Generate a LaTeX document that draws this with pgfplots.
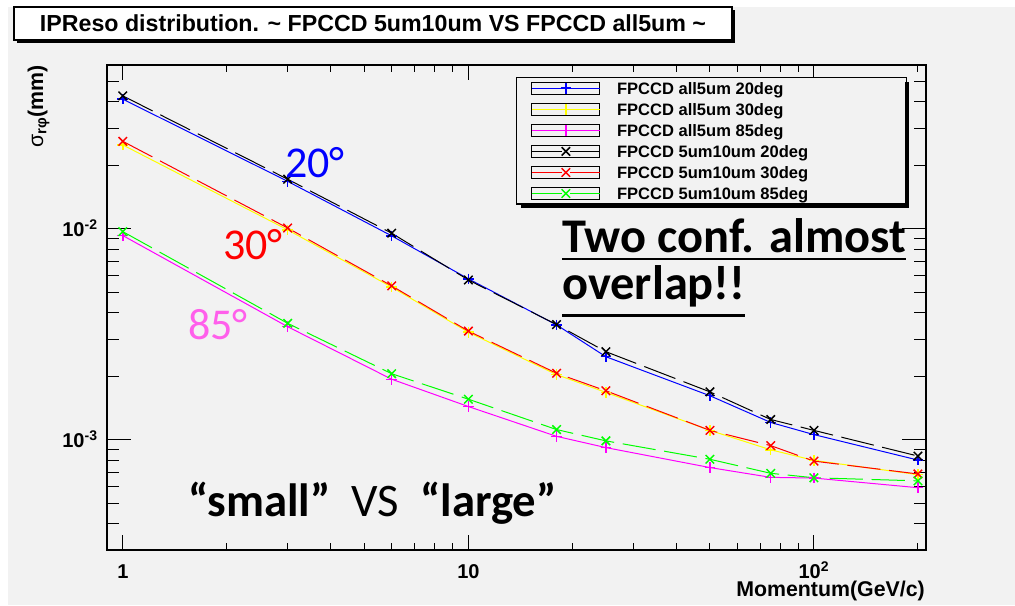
\documentclass[border=0pt]{standalone}
\usepackage{pgfplots}
\pgfplotsset{compat=1.18}
\usepackage{fontspec}
\setmainfont{Liberation Sans}
\newfontfamily\calibri{Carlito}
\definecolor{bggray}{HTML}{F2F2F2}
\definecolor{pinkish}{RGB}{255,95,235}
\definecolor{cblue}{RGB}{0,0,255}
\definecolor{cyel}{RGB}{255,255,0}
\definecolor{cmag}{RGB}{255,0,255}
\definecolor{cred}{RGB}{255,0,0}
\definecolor{cgrn}{RGB}{0,255,0}
\definecolor{cblk}{RGB}{0,0,0}
\newcommand\ul[3]{\setbox0\hbox{#3}\rlap{\rule[#1]{\wd0}{#2}}\box0}
\newcommand\lent[1]{\rule[-3.5pt]{0pt}{13.8pt}\makebox[214.5pt][l]{\hspace{10.5pt}#1}}
\begin{document}
\begin{tikzpicture}
\begin{scope}[x=0.75pt,y=-0.75pt,shift={(0pt,454.5pt)}]
 \fill[white] (0,0) rectangle (1015,606);
 \fill[bggray] (8,7) rectangle (1015,605);
 \fill[black] (17,10) rectangle (735,43);
 \draw[fill=white, line width=0.8pt] (14,7) rectangle (732,40);
 \node[font=\fontsize{17.4}{20}\selectfont\bfseries] at (373,23.5) {IPReso distribution. \textasciitilde{} FPCCD 5um10um VS FPCCD all5um \textasciitilde};
\end{scope}
% axis 1: background, frame and y ticks
\begin{axis}[
 at={(80.25pt,42pt)}, anchor=south west,
 scale only axis, width=614.25pt, height=363.75pt,
 xmode=log, ymode=log,
 xmin=0.9, xmax=211, ymin=3.01e-4, ymax=0.0598,
 axis line style={line width=1.1pt},
 tick align=inside, tick pos=both,
 every tick/.style={black, line width=0.8pt},
 axis background/.style={fill=bggray},
 xtick=\empty, minor xtick={},
 ytick={0.001,0.01}, yticklabels={10\textsuperscript{-3},10\textsuperscript{-2}},
 minor ytick={4e-4,5e-4,6e-4,7e-4,8e-4,9e-4,2e-3,3e-3,4e-3,5e-3,6e-3,7e-3,8e-3,9e-3,2e-2,3e-2,4e-2,5e-2},
 major tick length=18pt, minor tick length=9pt,
 yticklabel style={font=\fontsize{15}{17}\selectfont\bfseries, anchor=base east, inner xsep=0pt, xshift=-6.75pt, yshift=-5.5pt},
]
\addplot[draw=none, forget plot] coordinates {(1,0.01)};
\end{axis}
% axis 2: x ticks, data and legend
\begin{axis}[
 at={(80.25pt,42pt)}, anchor=south west,
 scale only axis, width=614.25pt, height=363.75pt,
 xmode=log, ymode=log,
 xmin=0.9, xmax=211, ymin=3.01e-4, ymax=0.0598,
 axis line style={line width=1.1pt},
 tick align=inside, tick pos=both,
 every tick/.style={black, line width=0.8pt},
 ytick=\empty, minor ytick={},
 xtick={1,10,100}, xticklabels={1,10,10\textsuperscript{2}},
 minor xtick={2,3,4,5,6,7,8,9,20,30,40,50,60,70,80,90,200},
 major tick length=11pt, minor tick length=5.5pt,
 xticklabel style={font=\fontsize{15}{17}\selectfont\bfseries, anchor=base, inner sep=0pt, yshift=-21pt},
 legend image code/.code={
   \draw[black, line width=0.8pt, solid, fill=none] (0pt,-4.5pt) rectangle (51pt,4.5pt);
   \draw[#1, dash phase=2.75pt] (0pt,0pt) -- (51pt,0pt);
   \draw[#1] plot coordinates {(25.5pt,0pt)};
 },
 legend cell align=left,
 legend style={at={(0.4994,0.9753)}, anchor=north west, fill=bggray, draw=black, line width=1pt,
   font=\fontsize{12.4}{14}\selectfont\bfseries, inner xsep=11pt, inner ysep=0pt, row sep=0pt},
 every axis plot/.append style={line width=0.75pt},
 solidp/.style={mark=+, mark size=4pt, mark options={solid, line width=1.1pt}},
 dashp/.style={dash pattern=on 25pt off 6.5pt, mark=x, mark size=4.5pt, mark options={solid, line width=1.1pt}},
]
\addplot[cblue, solidp] coordinates {
 (1,0.0412) (3,0.0168) (6,0.00927) (10,0.0058) (18,0.00351) (25,0.00248) (50,0.00162) (75,0.00121) (100,0.00106) (200,0.000803)};
\addlegendentry{\lent{FPCCD all5um 20deg}}
\addplot[cyel, solidp] coordinates {
 (1,0.0250) (3,0.0099) (6,0.00530) (10,0.00324) (18,0.00204) (25,0.00168) (50,0.00111) (75,0.000898) (100,0.000800) (200,0.000685)};
\addlegendentry{\lent{FPCCD all5um 30deg}}
\addplot[cmag, solidp] coordinates {
 (1,0.00930) (3,0.00344) (6,0.00194) (10,0.00144) (18,0.00104) (25,0.00092) (50,0.00074) (75,0.000665) (100,0.00066) (200,0.000594)};
\addlegendentry{\lent{FPCCD all5um 85deg}}
\addplot[cblk, dashp] coordinates {
 (1,0.0427) (3,0.0172) (6,0.00954) (10,0.00573) (18,0.00352) (25,0.00262) (50,0.00169) (75,0.00125) (100,0.00111) (200,0.000839)};
\addlegendentry{\lent{FPCCD 5um10um 20deg}}
\addplot[cred, dashp] coordinates {
 (1,0.0260) (3,0.0101) (6,0.00537) (10,0.00328) (18,0.00207) (25,0.00171) (50,0.00111) (75,0.00094) (100,0.000794) (200,0.000690)};
\addlegendentry{\lent{FPCCD 5um10um 30deg}}
\addplot[cgrn, dashp] coordinates {
 (1,0.00971) (3,0.00357) (6,0.00206) (10,0.00156) (18,0.00112) (25,0.00099) (50,0.00081) (75,0.000695) (100,0.000662) (200,0.00064)};
\addlegendentry{\lent{FPCCD 5um10um 85deg}}
\end{axis}
\begin{scope}[x=0.75pt,y=-0.75pt,shift={(0pt,454.5pt)}]
 \fill[black] (905,82) rectangle (909,208);
 \fill[black] (521,204.5) rectangle (909,208);
 \node[rotate=90, anchor=base east, inner sep=0pt, font=\fontsize{16}{18}\selectfont] at (43,65) {σ\textsubscript{\bfseries rφ}\bfseries(mm)};
 \node[anchor=base east, inner sep=0pt, font=\fontsize{16}{19}\selectfont\bfseries] at (925,597) {Momentum(GeV/c)};
 \node[anchor=base west, inner sep=0pt, text=cblue, font=\calibri\fontsize{33}{36}\selectfont] at (285,178) {20°};
 \node[anchor=base west, inner sep=0pt, text=cred, font=\calibri\fontsize{33}{36}\selectfont] at (223,260) {30°};
 \node[anchor=base west, inner sep=0pt, text=pinkish, font=\calibri\fontsize{33}{36}\selectfont] at (188,340) {85°};
 \node[anchor=base west, inner sep=0pt, font=\calibri\bfseries\fontsize{36.3}{38}\selectfont] at (562,253) {\ul{-5.6pt}{2.2pt}{Two conf. almost}};
 \node[anchor=base west, inner sep=0pt, font=\calibri\bfseries\fontsize{36.3}{38}\selectfont] at (562,300) {\ul{-12.4pt}{2.2pt}{overlap!!}};
 \node[anchor=base west, inner sep=0pt, font=\calibri\fontsize{35}{38}\selectfont] at (188,517) {{\bfseries “small”}\ \ VS\ \ {\bfseries “large”}};
\end{scope}
\pgfresetboundingbox
\useasboundingbox (0,0) rectangle (761.25pt,454.5pt);
\end{tikzpicture}
\end{document}
